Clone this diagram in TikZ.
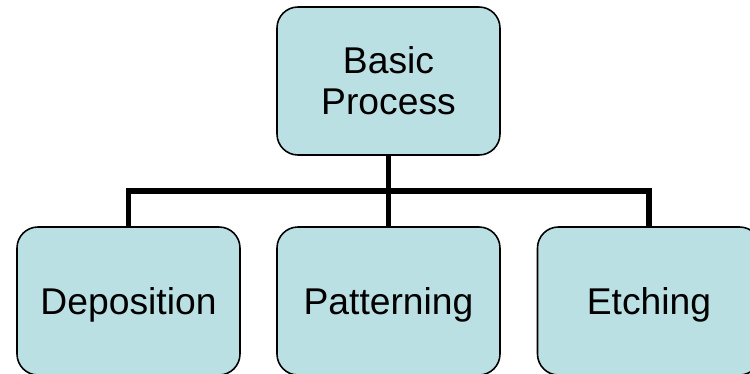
\documentclass[tikz,border=0pt]{standalone}
\usepackage{fontspec}
\setmainfont{Liberation Sans}
\usetikzlibrary{positioning, calc}
\definecolor{boxfill}{HTML}{BBE0E3}

\begin{document}
\begin{tikzpicture}[
    stepbox/.style={draw=black, line width=0.9pt, fill=boxfill,
      rounded corners=0.42cm, minimum width=4.46cm, minimum height=2.96cm,
      align=center, font=\fontsize{21.2}{23.3}\selectfont},
    branch/.style={draw=black, line width=3.4pt}]
  \useasboundingbox (0,0) rectangle (15,-7.48);
  \node[stepbox] (basic) at (7.77,-1.62) {Basic\\Process};
  \foreach \name/\lab/\col in {dep/Deposition/2.57, pat/Patterning/7.77,
                               etch/Etching/12.98}{%
    \node[stepbox, text depth=0pt] (\name) at (\col,-6.02) {\lab};}
  % trunk and side branches
  \coordinate (fork) at ($(basic.south)!0.5!(pat.north)$);
  \draw[branch] (basic.south) -- (pat.north);
  \draw[branch] (dep.north) |- (fork) -| (etch.north);
\end{tikzpicture}
\end{document}
